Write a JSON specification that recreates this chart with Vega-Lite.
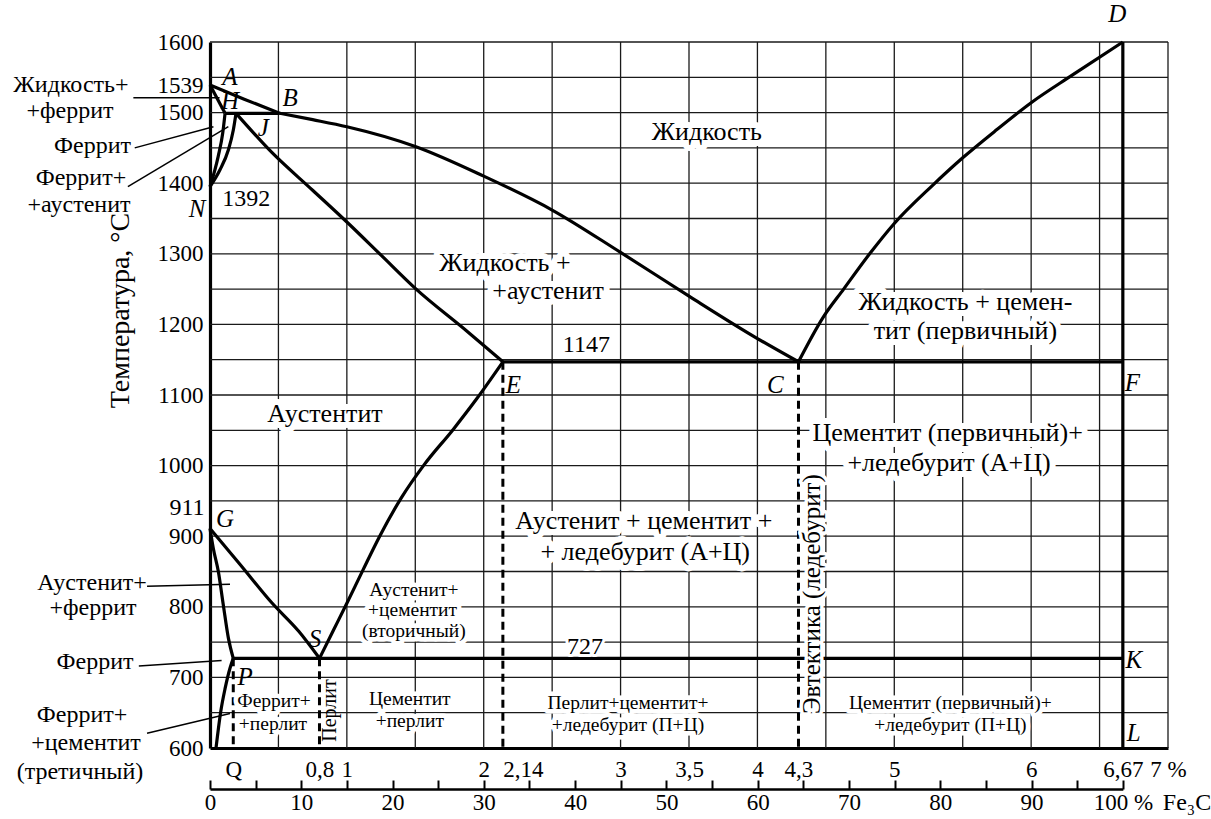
{
  "$schema": "https://vega.github.io/schema/vega-lite/v6.json",
  "width": 958,
  "height": 706,
  "autosize": {"type": "none"},
  "padding": {"left": 210, "top": 42, "right": 43, "bottom": 71},
  "background": "white",
  "config": {
    "view": {"stroke": null},
    "font": "Liberation Serif, DejaVu Serif, serif",
    "axis": {"labelFont": "Liberation Serif, DejaVu Serif, serif", "titleFont": "Liberation Serif, DejaVu Serif, serif", "labelColor": "black", "titleColor": "black", "titleFontWeight": "normal"}
  },
  "datasets": {
    "gridx": [{"g": 0.5}, {"g": 1}, {"g": 1.5}, {"g": 2}, {"g": 2.5}, {"g": 3}, {"g": 3.5}, {"g": 4}, {"g": 4.5}, {"g": 5}, {"g": 5.5}, {"g": 6}, {"g": 6.5}, {"g": 7}],
    "gridy": [{"g": 650}, {"g": 700}, {"g": 750}, {"g": 800}, {"g": 850}, {"g": 900}, {"g": 950}, {"g": 1000}, {"g": 1050}, {"g": 1100}, {"g": 1150}, {"g": 1200}, {"g": 1250}, {"g": 1300}, {"g": 1350}, {"g": 1400}, {"g": 1450}, {"g": 1500}, {"g": 1550}, {"g": 1600}],
    "curves": [
      {"c": "AB", "x": 0, "t": 1539}, {"c": "AB", "x": 0.25, "t": 1519}, {"c": "AB", "x": 0.51, "t": 1499},
      {"c": "AH", "x": 0, "t": 1539}, {"c": "AH", "x": 0.11, "t": 1499},
      {"c": "HB", "x": 0.11, "t": 1499}, {"c": "HB", "x": 0.51, "t": 1499},
      {"c": "BC", "x": 0.51, "t": 1499}, {"c": "BC", "x": 0.75, "t": 1490}, {"c": "BC", "x": 1.0, "t": 1480}, {"c": "BC", "x": 1.5, "t": 1452}, {"c": "BC", "x": 2.0, "t": 1410}, {"c": "BC", "x": 2.5, "t": 1362}, {"c": "BC", "x": 3.0, "t": 1302}, {"c": "BC", "x": 3.5, "t": 1240}, {"c": "BC", "x": 4.0, "t": 1180}, {"c": "BC", "x": 4.3, "t": 1147},
      {"c": "HN", "x": 0, "t": 1395}, {"c": "HN", "x": 0.06, "t": 1438}, {"c": "HN", "x": 0.093, "t": 1471}, {"c": "HN", "x": 0.11, "t": 1499},
      {"c": "JN", "x": 0, "t": 1395}, {"c": "JN", "x": 0.073, "t": 1419}, {"c": "JN", "x": 0.134, "t": 1447}, {"c": "JN", "x": 0.17, "t": 1475}, {"c": "JN", "x": 0.19, "t": 1499},
      {"c": "JE", "x": 0.19, "t": 1499}, {"c": "JE", "x": 0.45, "t": 1444}, {"c": "JE", "x": 0.75, "t": 1390}, {"c": "JE", "x": 1.0, "t": 1345}, {"c": "JE", "x": 1.25, "t": 1298}, {"c": "JE", "x": 1.5, "t": 1251}, {"c": "JE", "x": 1.88, "t": 1190}, {"c": "JE", "x": 2.14, "t": 1147},
      {"c": "CD", "x": 4.3, "t": 1147}, {"c": "CD", "x": 4.48, "t": 1210}, {"c": "CD", "x": 4.63, "t": 1250}, {"c": "CD", "x": 4.82, "t": 1300}, {"c": "CD", "x": 5.0, "t": 1343}, {"c": "CD", "x": 5.28, "t": 1397}, {"c": "CD", "x": 5.5, "t": 1436}, {"c": "CD", "x": 5.75, "t": 1476}, {"c": "CD", "x": 6.0, "t": 1514}, {"c": "CD", "x": 6.3, "t": 1553}, {"c": "CD", "x": 6.67, "t": 1600},
      {"c": "ECF", "x": 2.14, "t": 1147}, {"c": "ECF", "x": 6.67, "t": 1147},
      {"c": "GS", "x": 0, "t": 911}, {"c": "GS", "x": 0.22, "t": 860}, {"c": "GS", "x": 0.45, "t": 806}, {"c": "GS", "x": 0.65, "t": 765}, {"c": "GS", "x": 0.8, "t": 727},
      {"c": "GP", "x": 0, "t": 911}, {"c": "GP", "x": 0.024, "t": 883}, {"c": "GP", "x": 0.061, "t": 850}, {"c": "GP", "x": 0.097, "t": 803}, {"c": "GP", "x": 0.134, "t": 756}, {"c": "GP", "x": 0.17, "t": 727},
      {"c": "PQ", "x": 0.044, "t": 600}, {"c": "PQ", "x": 0.078, "t": 651}, {"c": "PQ", "x": 0.11, "t": 684}, {"c": "PQ", "x": 0.146, "t": 713}, {"c": "PQ", "x": 0.17, "t": 727},
      {"c": "PSK", "x": 0.17, "t": 727}, {"c": "PSK", "x": 6.67, "t": 727},
      {"c": "ES", "x": 0.8, "t": 727}, {"c": "ES", "x": 0.9, "t": 766}, {"c": "ES", "x": 1.0, "t": 805}, {"c": "ES", "x": 1.12, "t": 853}, {"c": "ES", "x": 1.24, "t": 900}, {"c": "ES", "x": 1.4, "t": 955}, {"c": "ES", "x": 1.56, "t": 1000}, {"c": "ES", "x": 1.78, "t": 1052}, {"c": "ES", "x": 1.95, "t": 1095}, {"c": "ES", "x": 2.14, "t": 1147},
      {"c": "DL", "x": 6.67, "t": 600}, {"c": "DL", "x": 6.67, "t": 1600}
    ],
    "dashed": [
      {"c": "P", "x": 0.17, "t": 727}, {"c": "P", "x": 0.17, "t": 600},
      {"c": "S", "x": 0.8, "t": 727}, {"c": "S", "x": 0.8, "t": 600},
      {"c": "E", "x": 2.14, "t": 1147}, {"c": "E", "x": 2.14, "t": 600},
      {"c": "C", "x": 4.3, "t": 1147}, {"c": "C", "x": 4.3, "t": 600}
    ],
    "leaders": [
      {"c": "1", "x": -0.56, "t": 1521}, {"c": "1", "x": 0.07, "t": 1521},
      {"c": "2", "x": -0.55, "t": 1450}, {"c": "2", "x": 0.025, "t": 1480},
      {"c": "3", "x": -0.6, "t": 1395}, {"c": "3", "x": 0.134, "t": 1480},
      {"c": "4", "x": -0.46, "t": 829}, {"c": "4", "x": 0.146, "t": 832},
      {"c": "5", "x": -0.52, "t": 716}, {"c": "5", "x": 0.085, "t": 724},
      {"c": "6", "x": -0.46, "t": 621}, {"c": "6", "x": 0.146, "t": 649}
    ],
    "labels": [
      {"kind": "region", "x": 3.63, "t": 1473, "text": "Жидкость"},
      {"kind": "region", "x": 2.155, "t": 1287, "text": "Жидкость +"},
      {"kind": "region", "x": 2.47, "t": 1247, "text": "+аустенит"},
      {"kind": "region", "x": 5.52, "t": 1232, "text": "Жидкость + цемен-"},
      {"kind": "region", "x": 5.52, "t": 1190, "text": "тит (первичный)"},
      {"kind": "region", "x": 0.84, "t": 1073, "text": "Аустентит"},
      {"kind": "region", "x": 5.39, "t": 1046, "text": "Цементит (первичный)+"},
      {"kind": "region", "x": 5.4, "t": 1004, "text": "+ледебурит (А+Ц)"},
      {"kind": "region", "x": 3.17, "t": 921, "text": "Аустенит + цементит +"},
      {"kind": "region", "x": 3.18, "t": 878, "text": "+ ледебурит (А+Ц)"},
      {"kind": "small", "x": 1.49, "t": 824, "text": "Аустенит+"},
      {"kind": "small", "x": 1.48, "t": 795, "text": "+цементит"},
      {"kind": "small", "x": 1.49, "t": 766, "text": "(вторичный)"},
      {"kind": "small", "x": 1.46, "t": 670, "text": "Цементит"},
      {"kind": "small", "x": 1.46, "t": 638, "text": "+перлит"},
      {"kind": "small", "x": 0.468, "t": 666, "text": "Феррит+"},
      {"kind": "small", "x": 0.46, "t": 634, "text": "+перлит"},
      {"kind": "small", "x": 3.054, "t": 664, "text": "Перлит+цементит+"},
      {"kind": "small", "x": 3.054, "t": 633, "text": "+ледебурит (П+Ц)"},
      {"kind": "small", "x": 5.41, "t": 664, "text": "Цементит (первичный)+"},
      {"kind": "small", "x": 5.41, "t": 633, "text": "+ледебурит (П+Ц)"},
      {"kind": "value", "x": 2.75, "t": 1171, "text": "1147"},
      {"kind": "value", "x": 2.74, "t": 743, "text": "727"},
      {"kind": "value", "x": 0.265, "t": 1377, "text": "1392"},
      {"kind": "outside", "x": -1.016, "t": 1539, "text": "Жидкость+"},
      {"kind": "outside", "x": -1.023, "t": 1502, "text": "+феррит"},
      {"kind": "outside", "x": -0.858, "t": 1452, "text": "Феррит"},
      {"kind": "outside", "x": -0.943, "t": 1407, "text": "Феррит+"},
      {"kind": "outside", "x": -0.957, "t": 1369, "text": "+аустенит"},
      {"kind": "outside", "x": -0.862, "t": 834, "text": "Аустенит+"},
      {"kind": "outside", "x": -0.855, "t": 799, "text": "+феррит"},
      {"kind": "outside", "x": -0.84, "t": 722, "text": "Феррит"},
      {"kind": "outside", "x": -0.935, "t": 647, "text": "Феррит+"},
      {"kind": "outside", "x": -0.906, "t": 607, "text": "+цементит"},
      {"kind": "outside", "x": -0.95, "t": 566, "text": "(третичный)"},
      {"kind": "outside", "x": -0.168, "t": 940, "text": "911"},
      {"kind": "letter", "x": 0.146, "t": 1551, "text": "A"},
      {"kind": "letter", "x": 0.585, "t": 1521, "text": "B"},
      {"kind": "letter", "x": 0.146, "t": 1516, "text": "H"},
      {"kind": "letter", "x": 0.39, "t": 1478, "text": "J"},
      {"kind": "letter", "x": -0.095, "t": 1364, "text": "N"},
      {"kind": "letter", "x": 0.11, "t": 925, "text": "G"},
      {"kind": "letter", "x": 0.767, "t": 755, "text": "S"},
      {"kind": "letter", "x": 0.256, "t": 700, "text": "P"},
      {"kind": "letter", "x": 2.216, "t": 1114, "text": "E"},
      {"kind": "letter", "x": 4.13, "t": 1114, "text": "C"},
      {"kind": "letter", "x": 6.74, "t": 1117, "text": "F"},
      {"kind": "letter", "x": 6.75, "t": 724, "text": "K"},
      {"kind": "letter", "x": 6.75, "t": 621, "text": "L"},
      {"kind": "letter", "x": 6.63, "t": 1640, "text": "D"},
      {"kind": "vert", "x": 4.4, "t": 818, "text": "Эвтектика (ледебурит)"},
      {"kind": "vsmall", "x": 0.88, "t": 653, "text": "Перлит"}
    ]
  },
  "layer": [
    {
      "data": {"name": "gridx"},
      "mark": {"type": "rule", "color": "#1a1a1a", "strokeWidth": 1.3},
      "encoding": {
        "x": {"field": "g", "type": "quantitative", "scale": {"domain": [0, 7], "nice": false, "zero": false},
          "axis": {
            "title": null,
            "orient": "bottom",
            "values": [0.17, 0.8, 1, 2, 2.14, 3, 3.5, 4, 4.3, 5, 6, 6.67, 7],
            "labelExpr": "datum.value == 0.17 ? 'Q' : datum.value == 0.8 ? '0,8' : datum.value == 2.14 ? '2,14' : datum.value == 3.5 ? '3,5' : datum.value == 4.3 ? '4,3' : datum.value == 6.67 ? '6,67' : datum.value == 7 ? '7 %' : format(datum.value, 'd')",
            "labelAlign": {"condition": {"test": "datum.value == 2.14", "value": "left"}, "value": "center"},
            "labelFontSize": 23, "labelPadding": 10, "labelOverlap": false, "labelBound": false, "labelFlush": false,
            "ticks": false, "domain": true, "domainColor": "black", "domainWidth": 3.2, "grid": false
          }}
      }
    },
    {
      "data": {"name": "gridy"},
      "mark": {"type": "rule", "color": "#1a1a1a", "strokeWidth": 1.3},
      "encoding": {
        "y": {"field": "g", "type": "quantitative", "scale": {"domain": [600, 1600], "nice": false, "zero": false},
          "axis": {
            "title": "Температура, °C", "titleFontSize": 28, "titleAngle": 270, "titleX": -90, "titleY": 268, "titleAlign": "center", "titleBaseline": "middle",
            "values": [600, 700, 800, 900, 1000, 1100, 1200, 1300, 1400, 1500, 1539, 1600],
            "format": "d",
            "labelFontSize": 23, "labelPadding": 7, "labelOverlap": false, "labelBound": false, "labelFlush": false,
            "ticks": false, "domain": true, "domainColor": "black", "domainWidth": 3.2, "grid": false
          }}
      }
    },
    {
      "data": {"name": "curves"},
      "mark": {"type": "line", "color": "black", "strokeWidth": 3.2, "interpolate": "monotone"},
      "encoding": {
        "x": {"field": "x", "type": "quantitative", "scale": {"domain": [0, 7], "nice": false, "zero": false}, "axis": null},
        "y": {"field": "t", "type": "quantitative", "scale": {"domain": [600, 1600], "nice": false, "zero": false}},
        "detail": {"field": "c", "type": "nominal"}
      }
    },
    {
      "data": {"name": "dashed"},
      "mark": {"type": "line", "color": "black", "strokeWidth": 3, "strokeDash": [8, 5]},
      "encoding": {
        "x": {"field": "x", "type": "quantitative", "scale": {"domain": [0, 7], "nice": false, "zero": false}, "axis": null},
        "y": {"field": "t", "type": "quantitative", "scale": {"domain": [600, 1600], "nice": false, "zero": false}},
        "detail": {"field": "c", "type": "nominal"}
      }
    },
    {
      "data": {"name": "leaders"},
      "mark": {"type": "line", "color": "black", "strokeWidth": 1.5},
      "encoding": {
        "x": {"field": "x", "type": "quantitative", "scale": {"domain": [0, 7], "nice": false, "zero": false}, "axis": null},
        "y": {"field": "t", "type": "quantitative", "scale": {"domain": [600, 1600], "nice": false, "zero": false}},
        "detail": {"field": "c", "type": "nominal"}
      }
    },
    {
      "data": {"name": "labels"},
      "transform": [{"filter": "datum.kind == 'region'"}],
      "mark": {"type": "text", "font": "Liberation Serif, DejaVu Serif, serif", "fontSize": 26, "fill": "white", "stroke": "white", "strokeWidth": 12, "strokeJoin": "round", "baseline": "middle"},
      "encoding": {
        "x": {"field": "x", "type": "quantitative", "scale": {"domain": [0, 7], "nice": false, "zero": false}, "axis": null},
        "y": {"field": "t", "type": "quantitative", "scale": {"domain": [600, 1600], "nice": false, "zero": false}},
        "text": {"field": "text"}
      }
    },
    {
      "data": {"name": "labels"},
      "transform": [{"filter": "datum.kind == 'value'"}],
      "mark": {"type": "text", "font": "Liberation Serif, DejaVu Serif, serif", "fontSize": 24, "fill": "white", "stroke": "white", "strokeWidth": 6, "strokeJoin": "round", "baseline": "middle"},
      "encoding": {
        "x": {"field": "x", "type": "quantitative", "scale": {"domain": [0, 7], "nice": false, "zero": false}, "axis": null},
        "y": {"field": "t", "type": "quantitative", "scale": {"domain": [600, 1600], "nice": false, "zero": false}},
        "text": {"field": "text"}
      }
    },
    {
      "data": {"name": "labels"},
      "transform": [{"filter": "datum.kind == 'small'"}],
      "mark": {"type": "text", "font": "Liberation Serif, DejaVu Serif, serif", "fontSize": 19.5, "fill": "white", "stroke": "white", "strokeWidth": 9, "strokeJoin": "round", "baseline": "middle"},
      "encoding": {
        "x": {"field": "x", "type": "quantitative", "scale": {"domain": [0, 7], "nice": false, "zero": false}, "axis": null},
        "y": {"field": "t", "type": "quantitative", "scale": {"domain": [600, 1600], "nice": false, "zero": false}},
        "text": {"field": "text"}
      }
    },
    {
      "data": {"name": "labels"},
      "transform": [{"filter": "datum.kind == 'vert'"}],
      "mark": {"type": "text", "font": "Liberation Serif, DejaVu Serif, serif", "fontSize": 25, "angle": 270, "fill": "white", "stroke": "white", "strokeWidth": 7, "strokeJoin": "round", "baseline": "middle"},
      "encoding": {
        "x": {"field": "x", "type": "quantitative", "scale": {"domain": [0, 7], "nice": false, "zero": false}, "axis": null},
        "y": {"field": "t", "type": "quantitative", "scale": {"domain": [600, 1600], "nice": false, "zero": false}},
        "text": {"field": "text"}
      }
    },
    {
      "data": {"name": "labels"},
      "transform": [{"filter": "datum.kind == 'region'"}],
      "mark": {"type": "text", "font": "Liberation Serif, DejaVu Serif, serif", "fontSize": 26, "fill": "black", "baseline": "middle"},
      "encoding": {
        "x": {"field": "x", "type": "quantitative", "scale": {"domain": [0, 7], "nice": false, "zero": false}, "axis": null},
        "y": {"field": "t", "type": "quantitative", "scale": {"domain": [600, 1600], "nice": false, "zero": false}},
        "text": {"field": "text"}
      }
    },
    {
      "data": {"name": "labels"},
      "transform": [{"filter": "datum.kind == 'value' || datum.kind == 'outside'"}],
      "mark": {"type": "text", "font": "Liberation Serif, DejaVu Serif, serif", "fontSize": 24, "fill": "black", "baseline": "middle"},
      "encoding": {
        "x": {"field": "x", "type": "quantitative", "scale": {"domain": [0, 7], "nice": false, "zero": false}, "axis": null},
        "y": {"field": "t", "type": "quantitative", "scale": {"domain": [600, 1600], "nice": false, "zero": false}},
        "text": {"field": "text"}
      }
    },
    {
      "data": {"name": "labels"},
      "transform": [{"filter": "datum.kind == 'small'"}],
      "mark": {"type": "text", "font": "Liberation Serif, DejaVu Serif, serif", "fontSize": 19.5, "fill": "black", "baseline": "middle"},
      "encoding": {
        "x": {"field": "x", "type": "quantitative", "scale": {"domain": [0, 7], "nice": false, "zero": false}, "axis": null},
        "y": {"field": "t", "type": "quantitative", "scale": {"domain": [600, 1600], "nice": false, "zero": false}},
        "text": {"field": "text"}
      }
    },
    {
      "data": {"name": "labels"},
      "transform": [{"filter": "datum.kind == 'letter'"}],
      "mark": {"type": "text", "font": "Liberation Serif, DejaVu Serif, serif", "fontSize": 25, "fontStyle": "italic", "fill": "black", "baseline": "middle"},
      "encoding": {
        "x": {"field": "x", "type": "quantitative", "scale": {"domain": [0, 7], "nice": false, "zero": false}, "axis": null},
        "y": {"field": "t", "type": "quantitative", "scale": {"domain": [600, 1600], "nice": false, "zero": false}},
        "text": {"field": "text"}
      }
    },
    {
      "data": {"name": "labels"},
      "transform": [{"filter": "datum.kind == 'vert'"}],
      "mark": {"type": "text", "font": "Liberation Serif, DejaVu Serif, serif", "fontSize": 25, "angle": 270, "fill": "black", "baseline": "middle"},
      "encoding": {
        "x": {"field": "x", "type": "quantitative", "scale": {"domain": [0, 7], "nice": false, "zero": false}, "axis": null},
        "y": {"field": "t", "type": "quantitative", "scale": {"domain": [600, 1600], "nice": false, "zero": false}},
        "text": {"field": "text"}
      }
    },
    {
      "data": {"name": "labels"},
      "transform": [{"filter": "datum.kind == 'vsmall'"}],
      "mark": {"type": "text", "font": "Liberation Serif, DejaVu Serif, serif", "fontSize": 20, "angle": 270, "fill": "black", "baseline": "middle"},
      "encoding": {
        "x": {"field": "x", "type": "quantitative", "scale": {"domain": [0, 7], "nice": false, "zero": false}, "axis": null},
        "y": {"field": "t", "type": "quantitative", "scale": {"domain": [600, 1600], "nice": false, "zero": false}},
        "text": {"field": "text"}
      }
    },
    {
      "data": {"values": [{"fe3c": 100, "name": "Fe₃C"}]},
      "mark": {"type": "text", "font": "Liberation Serif, DejaVu Serif, serif", "align": "left", "baseline": "middle", "fontSize": 24, "fill": "black", "dx": 40},
      "encoding": {
        "x": {"field": "fe3c", "type": "quantitative",
          "scale": {"domain": [0, 100], "range": [0, {"expr": "width*6.67/7"}], "nice": false, "zero": false},
          "axis": {
            "orient": "bottom", "offset": 41, "title": null,
            "values": [0, 5, 10, 15, 20, 25, 30, 35, 40, 45, 50, 55, 60, 65, 70, 75, 80, 85, 90, 95, 100],
            "labelExpr": "datum.value % 10 == 0 ? (datum.value == 100 ? '100 %' : format(datum.value, 'd')) : ''",
            "labelFontSize": 23, "labelPadding": 11, "labelOverlap": false, "labelBound": false, "labelFlush": false,
            "ticks": true, "tickSize": -9, "tickWidth": 2, "tickColor": "black",
            "domain": true, "domainColor": "black", "domainWidth": 2.5, "grid": false
          }},
        "y": {"datum": 522, "type": "quantitative", "scale": {"domain": [600, 1600], "nice": false, "zero": false}},
        "text": {"field": "name"}
      }
    }
  ],
  "resolve": {"scale": {"x": "independent"}, "axis": {"x": "independent"}}
}
